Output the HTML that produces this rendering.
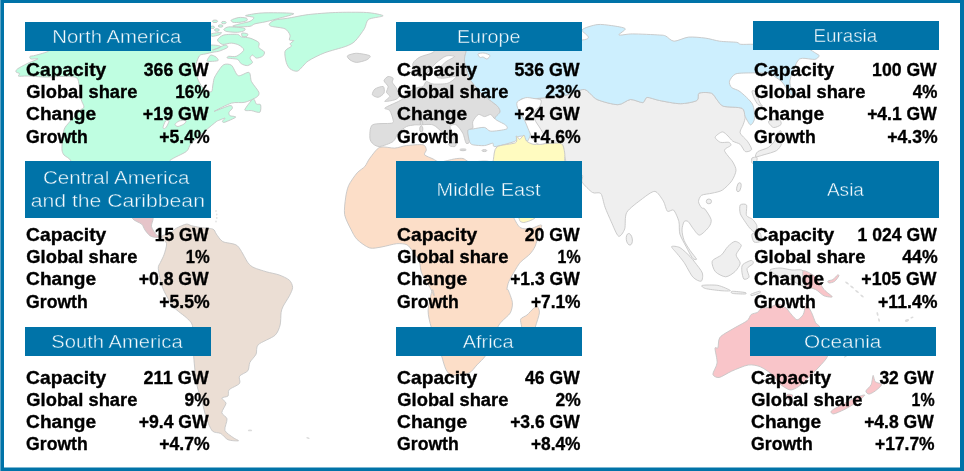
<!DOCTYPE html>
<html><head><meta charset="utf-8"><title>Renewable capacity by region</title>
<style>
html,body{margin:0;padding:0;background:#fff;}
body{width:964px;height:471px;overflow:hidden;font-family:"Liberation Sans",sans-serif;}
svg{display:block}
text{font-family:"Liberation Sans",sans-serif;}
.h{font-size:18.7px;fill:#f4fafd;font-weight:400;stroke:#0073a8;stroke-width:.42px}
.b{font-size:18.5px;fill:#000;font-weight:700;stroke:#000;stroke-width:.35px}
.land{filter:blur(.3px)}
.land path,.land ellipse,.land circle{stroke:#c6c6c6;stroke-width:.9;stroke-linejoin:round}
</style></head><body>
<svg width="964" height="471" viewBox="0 0 964 471">
<rect width="964" height="471" fill="#fff"/>
<g class="land">
<path fill="#bffee1" d="M48.7 51.0C50.5 49.6 27.1 45.8 48.7 45.0C70.3 44.2 189.2 44.3 211.0 45.0C232.8 45.7 210.6 50.0 212.5 50.0C214.4 50.0 223.0 45.3 225.0 45.0C227.0 44.7 228.3 46.7 227.5 47.5C226.7 48.3 220.6 50.7 218.8 51.3C217.0 51.9 215.8 51.6 214.0 52.0C212.2 52.4 207.0 53.5 205.0 54.0C203.0 54.5 200.6 54.1 199.3 56.0C198.0 57.9 195.3 64.9 195.2 68.2C195.1 71.5 197.1 77.5 198.3 80.4C199.5 83.3 202.6 88.1 204.4 89.6C206.2 91.1 210.4 92.4 211.5 91.7C212.6 91.0 212.5 86.0 213.0 84.0C213.5 82.0 213.5 79.1 214.9 76.6C216.3 74.1 221.0 66.5 223.2 65.0C225.4 63.5 229.5 63.9 231.5 65.3C233.5 66.7 235.9 74.8 238.2 75.7C240.5 76.6 247.2 71.6 249.0 72.4C250.8 73.2 250.2 78.9 251.5 81.6C252.8 84.3 258.2 90.2 258.9 92.3C259.6 94.4 258.3 96.0 256.4 97.3C254.5 98.6 248.1 101.5 244.8 102.3C241.5 103.1 235.6 101.9 231.5 103.1C227.4 104.3 214.3 111.1 214.1 111.4C213.9 111.7 227.5 106.0 229.9 105.6C232.3 105.2 232.5 107.2 232.4 108.1C232.3 109.0 229.3 111.3 229.0 112.3C228.7 113.3 229.0 114.9 229.9 115.6C230.8 116.3 236.4 116.3 235.7 117.2C235.0 118.1 226.7 121.6 224.9 122.2C223.1 122.8 222.4 121.9 222.4 121.4C222.4 120.9 225.4 118.2 224.9 118.1C224.4 118.0 219.5 120.1 218.3 120.6C217.1 121.1 217.8 120.4 216.2 121.7C214.6 123.0 209.5 127.1 206.2 130.0C202.9 132.9 194.0 140.3 191.3 143.2C188.6 146.1 189.2 149.2 186.3 151.5C183.4 153.8 173.2 157.6 169.7 160.7C166.2 163.8 173.2 173.1 160.0 175.0C146.8 176.9 82.9 176.9 71.0 175.0C59.1 173.1 71.9 163.7 71.0 161.0C70.1 158.3 65.2 156.5 64.0 155.0C62.8 153.5 62.2 151.8 62.0 150.0C61.8 148.2 62.0 144.4 62.3 141.6C62.6 138.8 63.3 131.6 64.3 129.0C65.3 126.4 67.4 124.5 69.5 122.0C71.6 119.5 78.1 112.4 80.0 110.4C81.9 108.4 83.9 108.5 84.0 107.0C84.1 105.5 81.7 102.1 81.0 99.0C80.3 95.9 79.6 86.4 78.9 83.5C78.2 80.6 78.3 78.2 75.8 77.3C73.3 76.4 64.1 76.5 60.0 76.5C55.9 76.5 49.4 77.1 45.0 77.0C40.6 76.9 30.5 76.1 27.0 76.0C23.5 75.9 19.6 76.5 18.6 76.2C17.6 75.9 19.9 74.2 19.6 73.6C19.3 73.0 16.3 72.6 16.0 72.0C15.7 71.4 16.0 70.0 17.5 68.9C19.0 67.8 24.2 65.0 26.9 63.7C29.6 62.4 37.5 59.4 38.0 58.8C38.5 58.2 32.1 59.3 31.0 59.0C29.9 58.7 29.4 56.9 30.0 56.4C30.6 55.9 32.7 56.1 35.2 55.4C37.7 54.7 46.9 52.4 48.7 51.0Z"/>
<path fill="#bffee1" d="M244.8 109.8C245.0 108.3 251.6 99.8 253.1 99.0C254.6 98.2 255.4 103.2 256.4 104.0C257.4 104.8 260.1 103.7 260.6 104.8C261.1 105.9 261.0 111.5 259.8 112.3C258.6 113.1 253.5 110.9 251.5 110.6C249.5 110.3 244.6 111.3 244.8 109.8Z"/>
<path fill="#bffee1" d="M269.4 23.8C269.9 23.0 272.6 20.7 275.0 20.0C277.4 19.3 283.0 19.0 287.4 18.3C291.8 17.6 301.8 15.4 308.2 14.6C314.6 13.8 327.5 12.8 335.3 12.5C343.1 12.2 360.1 12.1 366.5 12.5C372.9 12.9 382.8 14.9 383.1 15.8C383.4 16.7 371.1 17.7 368.6 19.4C366.1 21.1 366.2 25.8 364.4 28.7C362.6 31.6 357.5 38.8 355.0 41.2C352.5 43.6 349.7 44.9 345.7 46.4C341.7 47.9 329.9 50.8 324.9 52.7C319.9 54.6 311.8 58.6 308.2 61.0C304.6 63.4 300.2 70.0 297.8 71.0C295.4 72.0 291.5 69.9 290.0 68.8C288.5 67.7 287.0 64.8 286.3 62.5C285.6 60.2 284.3 53.5 285.0 51.3C285.7 49.1 290.6 47.3 291.3 46.3C292.0 45.3 289.7 44.6 290.0 43.8C290.3 43.0 293.9 41.1 293.8 40.6C293.7 40.1 289.9 40.7 289.4 40.0C288.9 39.3 290.6 36.5 290.0 35.0C289.4 33.5 287.5 30.0 285.0 28.8C282.5 27.6 273.4 27.0 271.3 26.3C269.2 25.6 268.9 24.6 269.4 23.8Z"/>
<path fill="#bffee1" d="M245.6 15.6C246.4 15.0 255.7 13.5 260.0 13.1C264.3 12.7 273.0 12.7 277.5 12.8C282.0 12.9 294.1 12.9 293.8 13.8C293.5 14.7 278.8 18.3 275.0 19.4C271.2 20.5 267.7 21.3 265.0 21.9C262.3 22.5 257.0 23.2 255.0 23.8C253.0 24.4 252.3 25.9 250.0 26.3C247.7 26.7 239.8 26.9 237.5 26.9C235.2 26.9 232.3 26.5 232.8 26.0C233.3 25.5 239.0 24.1 241.3 23.5C243.6 22.9 248.3 22.1 250.0 21.3C251.7 20.5 254.4 18.3 253.8 17.5C253.2 16.7 244.8 16.2 245.6 15.6Z"/>
<path fill="#bffee1" d="M231.3 20.0C232.1 19.4 236.8 17.8 238.8 17.5C240.8 17.2 245.2 17.7 246.3 18.1C247.4 18.5 247.7 20.0 246.9 20.6C246.1 21.2 241.8 22.1 240.0 22.3C238.2 22.5 234.3 22.6 233.1 22.3C231.9 22.0 230.5 20.6 231.3 20.0Z"/>
<path fill="#bffee1" d="M223.8 29.4C224.1 28.8 226.1 27.1 228.8 26.9C231.5 26.7 241.7 27.6 243.8 28.1C245.9 28.6 245.2 30.0 244.4 30.6C243.6 31.2 239.8 32.2 237.5 32.3C235.2 32.4 228.7 31.9 226.9 31.5C225.1 31.1 223.5 30.0 223.8 29.4Z"/>
<path fill="#bffee1" d="M241.9 33.1C242.6 32.7 246.8 33.4 247.5 33.8C248.2 34.2 247.6 35.9 246.9 36.3C246.2 36.7 243.2 36.9 242.5 36.5C241.8 36.1 241.2 33.5 241.9 33.1Z"/>
<path fill="#bffee1" d="M217.5 40.0C217.7 38.7 221.1 35.7 223.8 35.0C226.5 34.3 235.2 34.1 237.5 34.4C239.8 34.7 239.6 36.4 241.3 36.9C243.0 37.4 247.7 37.4 250.0 38.1C252.3 38.8 257.6 41.2 258.8 42.5C260.0 43.8 258.1 46.2 258.8 47.5C259.5 48.8 263.9 50.7 264.4 51.9C264.9 53.1 263.6 55.5 262.5 56.3C261.4 57.1 257.6 58.3 256.3 58.1C255.0 57.9 253.3 55.0 252.5 55.0C251.7 55.0 250.0 57.1 250.0 58.1C250.0 59.1 252.8 61.5 252.5 62.5C252.2 63.5 249.0 65.4 247.5 65.6C246.0 65.8 242.6 64.6 241.3 63.8C240.0 63.0 239.3 60.2 237.5 59.4C235.7 58.6 228.7 58.5 227.5 58.1C226.3 57.7 227.6 56.5 228.8 56.3C230.0 56.1 234.3 57.1 236.3 56.3C238.3 55.5 243.5 51.5 243.8 50.0C244.1 48.5 240.5 45.9 238.8 45.0C237.1 44.1 233.5 43.2 231.3 43.1C229.1 43.0 224.3 44.8 222.5 44.4C220.7 44.0 217.3 41.3 217.5 40.0Z"/>
<path fill="#bffee1" d="M211.3 33.8C212.6 33.3 220.3 32.3 221.3 32.5C222.3 32.7 220.1 34.5 218.8 35.0C217.5 35.5 212.9 36.5 211.9 36.3C210.9 36.1 210.0 34.3 211.3 33.8Z"/>
<ellipse fill="#bffee1" cx="215" cy="21.3" rx="2.6" ry="1.3"/>
<ellipse fill="#bffee1" cx="223.8" cy="22.6" rx="2.4" ry="1.2"/>
<ellipse fill="#bffee1" cx="220.6" cy="26" rx="2.4" ry="1.2"/>
<ellipse fill="#bffee1" cx="216.9" cy="30" rx="2.4" ry="1.3"/>
<ellipse fill="#bffee1" cx="212.5" cy="27.3" rx="2" ry="1.2"/>
<path fill="#bffee1" d="M208.7 57.5C209.2 56.7 210.0 55.1 211.0 55.0C212.0 54.9 215.1 56.3 216.0 57.0C216.9 57.7 219.1 60.0 218.0 60.6C216.9 61.2 208.7 61.7 207.5 61.3C206.3 60.9 208.2 58.3 208.7 57.5Z"/>
<path fill="#ffffff" d="M163.0 127.5C163.1 126.5 164.7 121.9 165.5 121.0C166.3 120.1 168.7 120.0 169.0 120.5C169.3 121.0 168.0 123.9 167.5 125.0C167.0 126.1 165.6 128.2 165.0 128.5C164.4 128.8 162.9 128.5 163.0 127.5Z"/>
<path fill="#ffffff" d="M175.0 124.5C175.1 123.8 177.5 121.5 179.0 121.0C180.5 120.5 185.3 120.1 186.0 120.5C186.7 120.9 185.1 123.2 184.0 124.0C182.9 124.8 179.2 126.4 178.0 126.5C176.8 126.6 174.9 125.2 175.0 124.5Z"/>
<path fill="#e6c4c9" d="M132.4 218.3C131.2 215.8 129.6 206.8 132.4 205.0C135.2 203.2 150.4 203.2 153.2 205.0C156.0 206.8 153.4 215.4 153.2 218.3C153.0 221.2 151.1 224.4 151.5 226.6C151.9 228.8 155.2 233.6 156.5 234.9C157.8 236.2 161.6 236.2 161.5 236.5C161.4 236.8 157.2 237.5 155.7 237.4C154.2 237.3 151.3 236.7 149.9 235.7C148.5 234.7 146.0 231.4 144.9 229.9C143.8 228.4 143.3 225.6 141.6 224.1C139.9 222.6 133.6 220.8 132.4 218.3Z"/>
<path fill="#ebded4" d="M161.5 236.5C161.9 235.1 167.8 234.3 169.8 233.2C171.8 232.1 174.2 229.4 176.4 228.2C178.6 227.0 184.4 224.4 186.4 224.1C188.4 223.8 189.6 225.3 191.4 225.7C193.2 226.1 196.8 226.9 199.7 227.4C202.6 227.9 210.7 228.2 212.9 229.1C215.1 230.0 215.0 232.3 216.3 234.0C217.6 235.7 220.0 240.0 222.8 241.6C225.6 243.2 234.1 243.0 237.4 245.8C240.7 248.6 245.6 259.6 247.8 262.5C250.0 265.4 251.6 266.5 254.1 267.7C256.6 268.9 263.2 270.8 266.5 271.8C269.8 272.8 275.9 273.8 279.0 274.9C282.1 276.0 287.6 278.5 289.4 280.2C291.2 281.9 292.6 285.3 292.6 287.4C292.6 289.5 290.7 293.3 289.4 295.8C288.1 298.3 284.3 304.0 283.2 306.2C282.1 308.4 281.5 310.0 281.1 312.5C280.7 315.0 280.9 321.9 280.1 325.0C279.3 328.1 277.8 332.8 274.9 335.4C272.0 338.0 260.7 342.2 258.2 344.7C255.7 347.2 257.2 351.7 256.1 354.1C255.0 356.5 251.0 360.2 249.9 362.4C248.8 364.6 249.2 369.0 247.8 370.8C246.4 372.6 240.6 374.5 239.5 376.2C238.4 377.9 240.9 381.7 239.5 383.5C238.1 385.3 230.6 388.1 229.1 389.8C227.6 391.5 229.0 394.9 228.0 396.0C227.0 397.1 222.1 397.1 221.8 398.1C221.5 399.1 226.0 401.4 226.0 403.3C226.0 405.2 221.7 410.6 221.8 412.7C221.9 414.8 226.6 416.5 227.0 418.9C227.4 421.3 224.1 427.9 224.9 430.4C225.7 432.9 231.4 436.2 233.2 437.6C235.0 439.0 239.2 440.5 238.5 440.8C237.8 441.1 230.4 440.7 228.0 439.7C225.6 438.7 222.9 434.7 220.8 433.5C218.7 432.3 214.3 433.1 212.4 431.0C210.5 428.9 207.6 421.9 206.2 417.9C204.8 413.9 203.3 405.6 202.0 401.2C200.7 396.8 197.9 390.6 196.8 384.6C195.7 378.6 194.2 363.9 193.7 356.2C193.2 348.5 193.5 332.0 192.7 327.0C191.9 322.0 190.1 321.5 187.5 318.7C184.9 315.9 176.2 310.4 172.9 306.2C169.6 302.0 164.4 292.4 162.5 287.4C160.6 282.4 158.6 272.0 158.3 268.7C158.0 265.4 159.6 264.4 160.4 262.5C161.2 260.6 163.2 257.3 164.0 254.8C164.8 252.3 166.9 246.1 166.6 243.7C166.3 241.3 161.1 237.9 161.5 236.5Z"/>
<path fill="#efefef" d="M522.0 98.9C523.9 98.2 528.2 99.2 532.4 98.9C536.6 98.6 548.5 97.4 553.2 96.8C557.9 96.2 563.6 95.7 567.8 94.7C572.0 93.7 580.6 88.9 584.5 89.5C588.4 90.1 592.6 97.5 597.1 99.5C601.6 101.5 613.5 104.7 617.9 104.7C622.3 104.7 627.1 99.8 630.4 99.5C633.7 99.2 640.6 102.9 642.8 102.6C645.0 102.3 644.8 97.7 647.0 97.4C649.2 97.1 655.1 99.7 659.5 100.5C663.9 101.3 675.3 103.7 680.3 103.7C685.3 103.7 694.4 101.9 696.9 100.5C699.4 99.1 697.1 94.2 699.0 93.2C700.9 92.2 709.1 92.3 711.5 93.2C713.9 94.1 715.5 98.2 717.1 99.9C718.7 101.6 720.0 105.1 723.3 106.2C726.6 107.3 739.1 106.9 742.0 108.3C744.9 109.7 745.0 114.4 745.2 116.6C745.4 118.8 743.9 122.4 743.2 124.6C742.5 126.8 739.5 130.7 740.1 132.9C740.7 135.1 745.9 139.0 747.4 141.2C748.9 143.4 751.9 148.1 751.6 149.5C751.3 150.9 746.8 152.3 745.3 151.6C743.8 150.9 741.8 145.7 740.1 144.3C738.4 142.9 734.4 142.3 732.8 141.2C731.2 140.1 729.4 137.2 728.0 136.0C726.6 134.8 724.1 131.8 722.4 131.9C720.7 132.0 715.5 135.7 715.2 137.1C714.9 138.5 718.6 141.6 720.4 142.3C722.2 143.0 727.3 141.9 728.7 142.3C730.1 142.7 731.4 144.3 730.8 145.4C730.2 146.5 724.2 148.4 724.5 150.6C724.8 152.8 731.3 159.4 732.8 162.0C734.3 164.6 736.1 167.9 736.0 170.4C735.9 172.9 733.6 178.2 731.8 180.8C730.0 183.4 725.0 188.4 722.4 190.1C719.8 191.8 714.8 192.5 712.0 193.2C709.2 193.9 703.4 194.2 701.6 195.3C699.8 196.4 698.5 199.9 698.5 201.6C698.5 203.3 700.7 206.8 701.6 207.8C702.5 208.8 703.6 207.5 704.9 209.1C706.2 210.7 710.6 217.1 711.1 219.5C711.6 221.9 710.5 224.7 709.0 226.8C707.5 228.9 701.8 234.8 699.7 235.1C697.6 235.4 694.9 230.7 693.4 228.9C691.9 227.1 689.4 222.6 688.2 221.6C687.0 220.6 684.9 220.5 684.1 221.6C683.3 222.7 682.0 227.4 682.0 229.9C682.0 232.4 683.0 237.6 684.1 240.4C685.2 243.2 688.6 248.3 690.3 250.8C692.0 253.3 696.2 258.1 696.5 259.1C696.8 260.1 693.8 259.7 692.4 258.0C691.0 256.3 687.8 249.8 686.1 246.6C684.4 243.4 680.9 237.4 679.9 234.1C678.9 230.8 679.7 224.8 678.9 221.6C678.1 218.4 675.2 211.6 673.7 210.2C672.2 208.8 668.8 212.5 667.4 211.2C666.0 209.9 664.9 203.4 663.2 200.8C661.5 198.2 657.7 191.7 654.9 191.4C652.1 191.1 646.1 195.9 642.4 198.7C638.7 201.5 629.2 208.3 626.8 212.3C624.4 216.3 625.8 225.7 624.7 228.9C623.6 232.1 620.3 237.2 618.5 236.2C616.7 235.2 613.0 225.5 611.2 221.6C609.4 217.7 606.4 210.8 605.0 207.1C603.6 203.4 602.5 195.4 600.8 193.5C599.1 191.6 595.0 194.0 592.5 192.5C590.0 191.0 583.5 184.4 582.1 182.1C580.7 179.8 584.2 175.9 582.0 175.0C579.8 174.1 567.9 176.9 565.7 175.0C563.5 173.1 566.0 163.7 565.7 160.8C565.4 157.9 564.1 155.1 563.6 152.9C563.1 150.7 564.4 145.9 561.6 144.6C558.8 143.3 545.9 143.8 542.8 143.5C539.7 143.2 540.4 144.0 538.7 142.6C537.0 141.2 532.1 135.8 530.4 133.2C528.7 130.6 527.6 125.6 526.2 122.8C524.8 120.0 521.0 114.9 519.9 112.4C518.8 109.9 517.6 105.9 517.9 104.1C518.2 102.3 520.1 99.6 522.0 98.9Z"/>
<ellipse fill="#efefef" cx="629.3" cy="239.3" rx="3" ry="5.8" transform="rotate(-8 629.3 239.3)"/>
<ellipse fill="#efefef" cx="708.9" cy="201.4" rx="2.6" ry="2.4"/>
<ellipse fill="#efefef" cx="738.9" cy="187.2" rx="2" ry="4.6" transform="rotate(12 738.9 187.2)"/>
<path fill="#efefef" d="M781.7 143.3C781.1 145.9 778.8 149.1 776.5 150.6C774.2 152.1 766.9 153.9 764.1 154.7C761.3 155.5 756.5 157.2 755.7 156.8C754.9 156.4 756.1 152.8 757.8 151.6C759.5 150.4 766.0 148.9 768.2 147.5C770.4 146.1 773.3 143.0 774.5 141.2C775.7 139.4 776.1 135.4 777.0 134.0C777.9 132.6 780.4 129.8 781.0 131.0C781.6 132.2 782.3 140.7 781.7 143.3Z"/>
<path fill="#efefef" d="M768.5 121.5C769.2 120.4 777.3 119.1 779.0 119.5C780.7 119.9 781.7 123.4 781.0 124.5C780.3 125.6 775.2 127.9 773.5 127.5C771.8 127.1 767.8 122.6 768.5 121.5Z"/>
<path fill="#efefef" d="M752.0 158.0C752.7 157.3 756.5 156.8 757.0 157.5C757.5 158.2 756.7 162.3 756.0 163.0C755.3 163.7 752.5 163.7 752.0 163.0C751.5 162.3 751.3 158.7 752.0 158.0Z"/>
<path fill="#efefef" d="M752.0 91.0C752.2 90.2 754.4 90.4 755.5 92.0C756.6 93.6 759.1 101.1 760.0 103.0C760.9 104.9 762.8 105.8 762.5 106.0C762.2 106.2 759.1 105.6 758.0 104.5C756.9 103.4 754.8 99.8 754.0 98.0C753.2 96.2 751.8 91.8 752.0 91.0Z"/>
<path fill="#efefef" d="M671.6 246.6C672.0 245.8 677.4 246.3 679.9 247.6C682.4 248.9 688.0 254.5 690.0 256.5C692.0 258.5 693.4 260.3 695.0 262.5C696.6 264.7 701.5 270.4 702.3 272.9C703.1 275.4 702.5 280.6 701.2 281.2C699.9 281.8 695.2 279.6 692.9 277.1C690.6 274.6 686.2 265.6 684.1 262.5C682.0 259.4 678.7 255.6 677.0 253.5C675.3 251.4 671.2 247.4 671.6 246.6Z"/>
<path fill="#efefef" d="M702.3 285.4C704.0 285.0 714.2 284.7 717.9 285.4C721.6 286.1 730.1 289.9 730.4 290.6C730.7 291.3 723.3 290.9 720.0 290.6C716.7 290.3 707.8 289.2 705.4 288.5C703.0 287.8 700.6 285.8 702.3 285.4Z"/>
<path fill="#efefef" d="M732.4 291.3C734.1 291.2 743.3 292.1 745.0 292.5C746.7 292.9 746.7 293.9 745.0 294.0C743.3 294.1 734.1 293.8 732.4 293.4C730.7 293.0 730.7 291.4 732.4 291.3Z"/>
<path fill="#efefef" d="M751.0 294.2C752.0 293.6 758.3 291.4 759.5 291.2C760.7 291.0 761.0 292.2 760.0 292.8C759.0 293.4 753.2 295.4 752.0 295.6C750.8 295.8 750.0 294.8 751.0 294.2Z"/>
<path fill="#efefef" d="M735.0 241.4C736.8 241.3 741.2 243.8 741.3 245.6C741.4 247.4 736.2 252.6 736.1 254.9C736.0 257.2 740.3 261.0 740.2 263.2C740.1 265.4 736.9 269.8 735.0 271.6C733.1 273.4 728.3 276.8 725.7 276.8C723.1 276.8 717.1 273.7 715.3 271.6C713.5 269.5 711.4 263.4 712.2 261.2C713.0 259.0 719.4 256.8 721.5 254.9C723.6 253.0 726.0 248.4 727.8 246.6C729.6 244.8 733.2 241.5 735.0 241.4Z"/>
<path fill="#efefef" d="M742.8 264.6C744.1 263.2 749.8 260.5 751.2 260.4C752.6 260.3 753.8 262.4 753.2 263.5C752.6 264.6 747.5 266.9 747.0 268.7C746.5 270.5 749.5 275.7 749.1 277.1C748.7 278.5 744.9 279.9 743.9 279.1C742.9 278.3 741.9 272.7 741.8 270.8C741.7 268.9 741.5 266.0 742.8 264.6Z"/>
<path fill="#efefef" d="M740.2 205.0C741.0 203.9 745.7 203.6 746.5 205.0C747.3 206.4 745.7 213.5 746.5 215.4C747.3 217.3 751.3 218.1 752.7 219.5C754.1 220.9 756.6 224.1 756.9 225.8C757.2 227.5 755.8 231.7 754.8 232.0C753.8 232.3 751.0 229.4 749.6 227.9C748.2 226.4 745.7 222.5 744.4 220.6C743.1 218.7 740.8 215.4 740.2 213.3C739.6 211.2 739.4 206.1 740.2 205.0Z"/>
<path fill="#efefef" d="M752.0 234.0C752.8 232.8 758.8 232.1 760.0 233.0C761.2 233.9 761.8 239.8 761.0 241.0C760.2 242.2 755.2 242.9 754.0 242.0C752.8 241.1 751.2 235.2 752.0 234.0Z"/>
<path fill="#efefef" d="M770.0 270.0C770.3 268.9 777.1 268.0 780.0 268.0C782.9 268.0 788.9 269.6 792.0 270.0C795.1 270.4 801.4 268.7 803.2 270.8C805.0 272.9 806.0 283.6 805.3 285.4C804.6 287.2 800.0 284.9 798.0 284.0C796.0 283.1 792.7 280.1 790.0 279.0C787.3 277.9 780.7 277.2 778.0 276.0C775.3 274.8 769.7 271.1 770.0 270.0Z"/>
<path fill="#dedede" d="M413.0 63.3C413.8 61.3 417.3 58.4 420.0 57.0C422.7 55.6 430.3 54.1 433.0 52.5C435.7 50.9 435.1 46.0 440.0 45.0C444.9 44.0 466.5 44.1 470.0 45.0C473.5 45.9 466.8 49.4 466.1 51.6C465.4 53.8 464.0 58.1 464.5 61.6C465.0 65.1 468.4 75.3 469.5 78.2C470.6 81.1 471.3 81.2 472.8 83.2C474.3 85.2 478.8 90.9 481.0 93.1C483.2 95.3 487.2 98.0 489.4 99.8C491.6 101.6 496.3 104.8 497.7 106.4C499.1 108.0 500.4 110.4 500.0 112.0C499.6 113.6 496.2 118.4 495.0 118.7C493.8 119.0 492.2 114.8 490.8 114.5C489.4 114.2 486.3 116.6 484.6 116.6C482.9 116.6 479.9 113.8 478.3 114.5C476.7 115.2 473.5 119.8 472.8 121.6C472.1 123.4 473.5 127.0 472.8 128.2C472.1 129.4 468.2 128.9 467.8 130.7C467.4 132.5 469.7 139.8 469.5 141.5C469.3 143.2 467.0 144.3 466.1 143.2C465.2 142.1 464.1 135.6 462.8 133.2C461.5 130.8 457.9 125.7 456.2 124.9C454.5 124.1 450.0 124.8 450.0 127.0C450.0 129.2 455.9 139.4 456.2 141.5C456.5 143.6 453.8 144.1 452.0 143.0C450.2 141.9 445.5 135.6 443.0 133.2C440.5 130.8 436.1 126.0 433.0 124.9C429.9 123.8 422.1 124.9 419.7 124.9C417.3 124.9 416.5 124.7 414.7 124.9C412.9 125.1 408.6 125.5 406.4 126.6C404.2 127.7 399.9 131.2 398.1 133.2C396.3 135.2 395.5 139.7 393.1 141.5C390.7 143.3 382.5 146.2 379.8 146.5C377.1 146.8 374.5 145.1 373.2 144.0C371.9 142.9 370.0 140.7 369.9 138.2C369.8 135.7 369.5 126.9 372.4 124.9C375.3 122.9 388.7 123.9 391.5 123.2C394.3 122.5 393.3 121.6 393.1 119.9C392.9 118.2 390.9 112.2 389.8 110.6C388.7 109.0 384.1 109.1 384.8 108.1C385.5 107.1 392.6 104.2 394.8 103.1C397.0 102.0 399.6 101.1 401.4 99.8C403.2 98.5 406.1 94.6 408.0 93.0C409.9 91.4 414.0 88.9 416.0 88.0C418.0 87.1 421.6 87.4 423.0 86.5C424.4 85.6 425.0 81.8 426.3 81.5C427.6 81.2 430.1 83.8 433.0 84.0C435.9 84.2 444.8 84.2 447.9 83.2C451.0 82.2 456.9 77.2 456.2 76.5C455.5 75.8 445.6 78.2 442.9 78.2C440.2 78.2 436.7 77.8 436.3 76.5C435.9 75.2 438.3 70.2 439.6 68.2C440.9 66.2 444.2 63.1 446.2 61.6C448.2 60.1 454.5 57.3 454.5 56.6C454.5 55.9 448.5 55.1 446.0 56.0C443.5 56.9 438.4 60.9 436.0 63.0C433.6 65.1 430.0 70.1 428.0 72.0C426.0 73.9 422.9 77.0 421.0 77.0C419.1 77.0 415.1 73.8 414.0 72.0C412.9 70.2 412.2 65.3 413.0 63.3Z"/>
<path fill="#dedede" d="M347.5 55.8C348.4 54.9 353.6 53.3 356.6 53.3C359.6 53.3 368.6 54.9 369.9 55.8C371.2 56.7 368.4 59.0 366.6 59.9C364.8 60.8 358.8 62.4 356.6 62.4C354.4 62.4 351.2 60.8 350.0 59.9C348.8 59.0 346.6 56.7 347.5 55.8Z"/>
<path fill="#dedede" d="M372.4 94.8C372.0 93.7 373.5 90.1 374.9 89.0C376.3 87.9 382.0 86.0 383.2 86.5C384.4 87.0 384.7 91.7 384.0 93.1C383.3 94.5 379.7 97.1 378.2 97.3C376.7 97.5 372.8 95.9 372.4 94.8Z"/>
<path fill="#dedede" d="M384.0 80.7C384.0 79.4 386.9 76.8 388.1 76.5C389.3 76.2 392.5 77.4 393.1 78.2C393.7 79.0 391.9 81.0 392.3 82.3C392.7 83.6 395.5 86.3 396.4 88.2C397.3 90.1 399.1 95.0 398.9 96.5C398.7 98.0 396.7 99.1 394.8 99.8C392.9 100.5 385.5 101.8 384.8 101.4C384.1 101.0 389.6 97.7 389.8 96.5C390.0 95.3 386.7 93.6 386.5 92.3C386.3 91.0 388.4 88.0 388.1 86.5C387.8 85.0 384.0 82.0 384.0 80.7Z"/>
<ellipse fill="#dedede" cx="421.3" cy="129" rx="1.6" ry="3"/>
<ellipse fill="#dedede" cx="421.5" cy="123" rx="1.3" ry="2.2"/>
<path fill="#dedede" d="M449.0 143.5C449.8 143.1 455.2 142.6 456.0 143.0C456.8 143.4 455.8 146.1 455.0 146.5C454.2 146.9 450.8 146.4 450.0 146.0C449.2 145.6 448.2 143.9 449.0 143.5Z"/>
<ellipse fill="#dedede" cx="463" cy="149.8" rx="3.2" ry="0.9"/>
<ellipse fill="#dedede" cx="484.4" cy="150.6" rx="2.4" ry="1"/>
<path fill="#cdeffe" d="M466.1 51.6C466.8 48.7 454.5 41.5 470.0 40.0C485.5 38.5 567.2 41.4 582.1 40.0C597.0 38.6 580.1 31.9 582.1 29.8C584.1 27.7 593.2 25.2 597.1 24.6C601.0 24.0 607.9 25.1 611.6 25.6C615.3 26.1 624.2 27.4 625.2 28.7C626.2 30.0 617.9 34.3 618.9 35.0C619.9 35.7 627.0 33.9 632.4 33.9C637.8 33.9 655.1 34.7 659.5 35.0C663.9 35.3 663.8 35.2 665.7 36.0C667.6 36.8 671.0 41.1 674.1 41.2C677.2 41.3 684.4 37.5 688.6 37.1C692.8 36.7 701.1 37.6 705.3 38.1C709.5 38.6 715.6 40.6 719.8 41.2C724.0 41.8 733.7 41.9 736.5 42.3C739.3 42.7 738.5 44.0 740.7 44.3C742.9 44.6 750.5 44.1 753.1 44.3C755.7 44.5 753.7 45.8 760.0 46.0C766.3 46.2 792.4 44.9 800.0 46.0C807.6 47.1 814.5 52.6 817.0 54.0C819.5 55.4 819.3 55.5 819.0 56.2C818.7 56.9 817.0 59.1 814.8 59.4C812.6 59.7 804.8 58.0 802.4 58.3C800.0 58.6 798.7 58.9 797.0 62.0C795.3 65.1 790.3 76.4 789.9 81.2C789.5 86.0 794.1 96.5 794.0 97.9C793.9 99.3 790.6 94.1 789.0 92.0C787.4 89.9 783.8 84.0 782.0 82.0C780.2 80.0 776.9 78.1 775.3 77.0C773.7 75.9 773.1 74.0 770.0 73.5C766.9 73.0 757.0 72.8 752.4 72.9C747.8 73.0 738.9 72.8 735.8 73.9C732.7 75.0 730.1 79.4 729.5 81.2C728.9 83.0 730.2 86.1 731.6 87.5C733.0 88.9 737.2 89.4 740.0 91.6C742.8 93.8 750.5 100.5 752.4 104.1C754.3 107.7 754.8 115.9 754.5 118.7C754.2 121.5 751.6 125.2 750.4 124.9C749.2 124.6 746.3 118.8 745.2 116.6C744.1 114.4 744.9 109.7 742.0 108.3C739.1 106.9 726.6 107.3 723.3 106.2C720.0 105.1 718.7 101.6 717.1 99.9C715.5 98.2 713.9 94.1 711.5 93.2C709.1 92.3 700.9 92.2 699.0 93.2C697.1 94.2 699.4 99.1 696.9 100.5C694.4 101.9 685.3 103.7 680.3 103.7C675.3 103.7 663.9 101.3 659.5 100.5C655.1 99.7 649.2 97.1 647.0 97.4C644.8 97.7 645.0 102.3 642.8 102.6C640.6 102.9 633.7 99.2 630.4 99.5C627.1 99.8 622.3 104.7 617.9 104.7C613.5 104.7 601.6 101.5 597.1 99.5C592.6 97.5 588.4 90.1 584.5 89.5C580.6 88.9 572.0 93.7 567.8 94.7C563.6 95.7 557.9 96.2 553.2 96.8C548.5 97.4 536.6 98.6 532.4 98.9C528.2 99.2 523.9 98.2 522.0 98.9C520.1 99.6 518.2 102.3 517.9 104.1C517.6 105.9 518.8 109.9 519.9 112.4C521.0 114.9 524.8 120.0 526.2 122.8C527.6 125.6 530.3 130.7 530.4 133.2C530.5 135.7 528.2 141.0 527.2 141.4C526.2 141.8 524.5 136.7 523.1 136.2C521.7 135.7 517.9 136.6 516.8 137.3C515.7 138.0 517.6 140.2 514.7 141.4C511.8 142.6 497.9 146.4 495.0 146.6C492.1 146.8 494.1 143.3 492.7 143.2C491.3 143.1 487.1 145.4 484.4 145.6C481.7 145.8 474.8 145.3 472.8 144.8C470.8 144.3 470.2 143.4 469.5 141.5C468.8 139.6 467.4 132.4 467.8 130.7C468.2 129.0 470.6 129.4 472.8 129.0C475.0 128.6 482.0 127.1 484.4 127.4C486.8 127.7 487.9 131.0 490.8 131.2C493.7 131.4 504.5 129.9 506.4 129.1C508.3 128.3 506.9 126.3 505.4 124.9C503.9 123.5 495.7 120.4 495.0 118.7C494.3 117.0 499.6 113.6 500.0 112.0C500.4 110.4 499.1 108.0 497.7 106.4C496.3 104.8 491.6 101.6 489.4 99.8C487.2 98.0 483.2 95.3 481.0 93.1C478.8 90.9 474.3 85.2 472.8 83.2C471.3 81.2 470.6 81.1 469.5 78.2C468.4 75.3 465.0 65.1 464.5 61.6C464.0 58.1 465.4 54.5 466.1 51.6Z"/>
<path fill="#fffbc0" d="M493.4 159.7C494.0 156.6 493.9 149.3 496.8 147.0C499.7 144.7 512.9 144.2 515.5 142.7C518.1 141.2 515.7 136.5 516.3 136.0C516.9 135.5 518.7 139.4 519.7 139.3C520.7 139.2 523.1 134.9 524.0 135.1C524.9 135.3 525.2 139.8 526.5 141.0C527.8 142.2 531.4 144.1 534.0 144.4C536.6 144.7 542.4 143.7 546.0 143.6C549.6 143.5 558.8 142.4 561.3 143.6C563.8 144.8 564.2 150.6 564.7 152.9C565.2 155.2 564.5 157.6 564.7 160.5C564.9 163.4 566.6 171.1 566.0 175.0C565.4 178.9 562.4 186.7 560.0 190.0C557.6 193.3 550.7 197.1 548.0 200.0C545.3 202.9 541.7 209.6 540.0 212.0C538.3 214.4 536.4 216.7 535.1 217.9C533.8 219.1 531.6 220.1 530.1 220.7C528.6 221.3 525.1 222.4 523.8 222.5C522.5 222.6 520.8 221.9 520.1 221.3C519.4 220.7 520.1 220.7 518.8 217.9C517.5 215.1 512.5 205.1 510.0 200.0C507.5 194.9 502.4 184.0 500.0 180.0C497.6 176.0 492.9 172.7 492.0 170.0C491.1 167.3 492.8 162.8 493.4 159.7Z"/>
<path fill="#ffffff" d="M525.7 97.7C523.5 98.2 518.2 100.5 517.2 102.0C516.2 103.5 517.1 106.5 518.0 108.8C518.9 111.1 522.5 116.1 524.0 119.0C525.5 121.9 527.7 127.9 529.0 130.8C530.3 133.7 532.7 139.2 534.1 141.0C535.5 142.8 537.6 144.2 539.2 144.4C540.8 144.6 545.3 143.8 546.0 142.7C546.7 141.6 545.3 138.0 544.5 136.0C543.7 134.0 541.3 130.1 540.0 128.0C538.7 125.9 535.8 122.1 535.0 120.0C534.2 117.9 533.3 113.9 534.0 112.0C534.7 110.1 539.1 107.6 540.0 106.0C540.9 104.4 541.8 101.0 541.0 100.0C540.2 99.0 536.0 98.8 534.0 98.5C532.0 98.2 527.9 97.2 525.7 97.7Z"/>
<path fill="#fcdec8" d="M379.8 147.3C383.1 146.0 391.3 148.3 394.8 148.1C398.3 147.9 402.6 146.0 406.4 145.6C410.2 145.2 420.3 144.2 423.0 144.8C425.7 145.4 426.1 148.5 426.3 149.8C426.5 151.1 423.7 153.6 424.6 154.8C425.5 156.0 430.9 157.9 433.0 158.9C435.1 159.9 437.1 162.0 440.0 162.0C442.9 162.0 451.4 159.4 454.5 158.9C457.6 158.4 460.9 158.1 463.0 158.5C465.1 158.9 466.4 161.5 470.0 162.0C473.6 162.5 486.3 159.6 490.0 162.0C493.7 164.4 496.0 174.9 498.0 180.0C500.0 185.1 502.9 194.9 505.0 200.0C507.1 205.1 511.8 214.2 513.8 217.9C515.8 221.6 517.9 226.0 520.1 227.5C522.3 229.0 527.3 229.1 530.1 228.8C532.9 228.5 540.2 224.3 541.4 225.0C542.6 225.7 539.7 231.0 538.9 233.8C538.1 236.6 536.3 243.6 535.1 246.3C533.9 249.0 531.9 251.9 530.1 253.9C528.3 255.9 523.0 259.7 521.3 261.4C519.6 263.1 518.9 264.0 517.3 266.6C515.7 269.2 510.4 278.1 509.0 281.2C507.6 284.3 507.0 288.3 506.9 289.5C506.8 290.7 507.5 288.3 508.2 290.0C508.9 291.7 512.1 299.4 512.4 302.5C512.7 305.6 511.7 310.4 510.3 312.9C508.9 315.4 503.7 319.3 502.0 321.2C500.3 323.1 499.4 323.8 497.8 327.0C496.2 330.2 491.7 341.1 490.0 345.0C488.3 348.9 487.0 353.3 485.3 356.0C483.6 358.7 479.2 362.6 477.0 364.9C474.8 367.2 472.0 371.8 468.7 373.2C465.4 374.6 455.1 375.8 452.0 375.3C448.9 374.8 447.2 371.7 445.8 369.1C444.4 366.5 442.9 359.9 441.6 356.0C440.3 352.1 437.4 343.9 436.0 340.0C434.6 336.1 432.3 330.9 431.2 327.0C430.1 323.1 428.0 315.7 428.1 310.8C428.2 305.9 431.5 292.0 432.3 290.0C433.1 288.0 434.4 296.1 434.1 295.8C433.8 295.5 431.6 290.5 429.9 287.4C428.2 284.3 423.0 276.2 421.6 272.9C420.2 269.6 420.6 265.3 419.5 262.5C418.4 259.7 414.9 254.5 413.2 252.1C411.5 249.7 409.2 245.9 407.0 244.8C404.8 243.7 399.9 243.4 396.6 243.7C393.3 244.0 385.6 246.3 382.0 246.9C378.4 247.5 372.8 248.9 369.5 247.9C366.2 246.9 359.6 242.0 357.1 239.5C354.6 237.0 352.5 232.4 350.8 229.1C349.1 225.8 345.3 218.7 344.6 214.5C343.9 210.3 345.1 201.8 345.6 197.9C346.1 194.0 347.2 188.7 348.7 185.4C350.2 182.1 354.9 175.4 357.1 172.9C359.3 170.4 363.2 168.4 364.9 166.4C366.6 164.4 367.9 160.6 369.9 158.1C371.9 155.6 376.5 148.6 379.8 147.3Z"/>
<path fill="#fcdec8" d="M537.4 306.6C538.2 307.2 539.7 310.2 539.4 312.9C539.1 315.6 536.4 323.4 535.3 327.0C534.2 330.6 532.5 337.9 531.0 340.0C529.5 342.1 525.2 344.7 524.0 343.0C522.8 341.3 522.1 330.2 521.7 327.0C521.3 323.8 520.0 320.7 520.7 319.1C521.4 317.5 525.3 316.4 527.0 315.0C528.7 313.6 531.8 309.8 533.2 308.7C534.6 307.6 536.6 306.0 537.4 306.6Z"/>
<path fill="#f9c5c9" d="M717.9 347.8C718.6 346.3 718.0 339.9 719.9 337.4C721.8 334.9 728.8 331.3 732.4 329.1C736.0 326.9 744.5 322.7 747.0 320.8C749.5 318.9 749.8 315.6 751.2 314.5C752.6 313.4 756.0 313.2 757.4 312.4C758.8 311.6 759.9 309.0 761.6 308.3C763.3 307.6 767.7 307.8 769.9 307.2C772.1 306.6 776.0 304.0 778.2 304.1C780.4 304.2 785.0 307.2 786.5 308.3C788.0 309.4 788.3 310.9 789.7 312.4C791.1 313.9 795.2 319.4 797.0 319.7C798.8 320.0 802.1 316.3 803.2 314.5C804.3 312.7 804.9 307.7 805.3 306.2C805.7 304.7 805.5 302.3 806.3 303.1C807.1 303.9 810.2 309.8 811.5 312.4C812.8 315.0 814.6 320.9 815.7 322.8C816.8 324.7 818.2 324.0 819.8 327.0C821.4 330.0 827.0 341.1 828.0 345.0C829.0 348.9 828.6 353.7 827.4 356.6C826.2 359.5 821.8 363.9 819.0 367.0C816.2 370.1 809.3 376.9 806.5 379.5C803.7 382.1 800.4 385.4 798.2 386.8C796.0 388.2 792.4 390.3 789.9 389.9C787.4 389.5 781.7 385.6 779.5 383.7C777.3 381.8 775.7 377.6 773.2 375.4C770.7 373.2 764.1 368.4 760.8 367.0C757.5 365.6 752.2 364.4 748.3 365.0C744.4 365.6 735.5 369.5 731.6 371.2C727.7 372.9 721.6 377.1 719.1 377.5C716.6 377.9 713.2 376.2 712.9 374.3C712.6 372.4 716.8 366.4 717.1 362.9C717.4 359.4 714.9 350.3 715.0 348.3C715.1 346.3 717.2 349.3 717.9 347.8Z"/>
<path fill="#f9c5c9" d="M787.0 394.5C787.7 394.0 792.0 394.3 792.5 395.0C793.0 395.7 791.7 399.5 791.0 400.0C790.3 400.5 788.0 399.7 787.5 399.0C787.0 398.3 786.3 395.0 787.0 394.5Z"/>
<path fill="#f9c5c9" d="M803.2 270.8C804.6 269.7 812.9 274.6 815.7 277.1C818.5 279.6 821.8 286.9 824.0 289.5C826.2 292.1 832.3 296.0 832.3 296.8C832.3 297.6 826.2 296.8 824.0 295.8C821.8 294.8 818.2 290.9 815.7 289.5C813.2 288.1 807.0 287.9 805.3 285.4C803.6 282.9 801.8 271.9 803.2 270.8Z"/>
<path fill="#f9c5c9" d="M828.0 281.0C828.5 280.5 831.7 280.3 833.0 279.5C834.3 278.7 836.7 275.5 837.5 275.0C838.3 274.5 839.2 275.1 838.8 276.0C838.4 276.9 835.8 280.6 834.5 281.5C833.2 282.4 829.9 283.1 829.0 283.0C828.1 282.9 827.5 281.5 828.0 281.0Z"/>
<path fill="#f9c5c9" d="M873.1 375.4C873.6 375.0 874.1 380.4 875.2 381.6C876.3 382.8 881.5 383.4 881.5 384.7C881.5 386.0 876.9 389.7 875.2 391.0C873.5 392.3 870.2 394.1 869.0 394.1C867.8 394.1 865.6 392.3 865.9 391.0C866.2 389.7 870.1 386.8 871.1 384.7C872.1 382.6 872.6 375.8 873.1 375.4Z"/>
<path fill="#f9c5c9" d="M864.8 395.1C864.8 395.8 859.3 400.5 856.5 402.4C853.7 404.3 847.1 408.2 844.0 409.7C840.9 411.2 835.3 413.8 833.6 413.9C831.9 414.0 830.1 412.2 831.5 410.8C832.9 409.4 840.7 405.3 844.0 403.5C847.3 401.7 853.7 398.3 856.5 397.2C859.3 396.1 864.8 394.4 864.8 395.1Z"/>
<ellipse fill="#dcdcdc" cx="847" cy="283" rx="2.2" ry="0.9" transform="rotate(35 847 283)" style="stroke:none"/>
<ellipse fill="#dcdcdc" cx="852" cy="287" rx="2.2" ry="0.9" transform="rotate(35 852 287)" style="stroke:none"/>
<ellipse fill="#dcdcdc" cx="857" cy="291.5" rx="2.2" ry="0.9" transform="rotate(35 857 291.5)" style="stroke:none"/>
<ellipse fill="#dcdcdc" cx="862" cy="296" rx="2" ry="0.9" transform="rotate(35 862 296)" style="stroke:none"/>
<ellipse fill="#dcdcdc" cx="877.5" cy="314" rx="0.9" ry="2" transform="rotate(-15 877.5 314)" style="stroke:none"/>
<ellipse fill="#dcdcdc" cx="879" cy="320" rx="0.9" ry="1.8" transform="rotate(-15 879 320)" style="stroke:none"/>
<ellipse fill="#dcdcdc" cx="907" cy="320.5" rx="2.2" ry="1.2" transform="rotate(-20 907 320.5)" style="stroke:none"/>
<ellipse fill="#dcdcdc" cx="912" cy="317.5" rx="1.6" ry="0.9" transform="rotate(-20 912 317.5)" style="stroke:none"/>
<ellipse fill="#dcdcdc" cx="846" cy="356" rx="2.5" ry="0.8" transform="rotate(-40 846 356)" style="stroke:none"/>
<path fill="#ffffff" d="M478.0 54.0C478.5 53.4 482.4 52.8 484.0 53.0C485.6 53.2 489.6 54.7 490.0 55.5C490.4 56.3 487.9 58.8 487.0 59.0C486.1 59.2 483.9 57.2 483.0 57.0C482.1 56.8 480.7 57.9 480.0 57.5C479.3 57.1 477.5 54.6 478.0 54.0Z"/>
<ellipse fill="#dcdcdc" cx="250" cy="430.4" rx="2.2" ry="0.9" style="stroke:none"/>
<ellipse fill="#dcdcdc" cx="308" cy="438" rx="1.8" ry="0.7" transform="rotate(20 308 438)" style="stroke:none"/>
<ellipse fill="#dcdcdc" cx="216" cy="211" rx="0.7" ry="0.9" style="stroke:none"/>
<ellipse fill="#dcdcdc" cx="216.8" cy="214.5" rx="0.7" ry="0.9" style="stroke:none"/>
<ellipse fill="#dcdcdc" cx="216.8" cy="218" rx="0.7" ry="0.9" style="stroke:none"/>
<ellipse fill="#dcdcdc" cx="216" cy="221.5" rx="0.7" ry="0.9" style="stroke:none"/>
</g>
<!-- frame -->
<path d="M0 0H964V471H0Z M4 3V467.5H960V3Z" fill="#0073a8" fill-rule="evenodd"/>
<rect x="0" y="0" width="1" height="471" fill="#5ba3c6"/>
<rect x="25" y="22" width="186" height="29" fill="#0073a8"/>
<rect x="396" y="22" width="186" height="29" fill="#0073a8"/>
<rect x="753" y="21" width="186" height="29" fill="#0073a8"/>
<rect x="25" y="161" width="186" height="57" fill="#0073a8"/>
<rect x="396" y="161" width="186" height="57" fill="#0073a8"/>
<rect x="753" y="161" width="186" height="57" fill="#0073a8"/>
<rect x="25" y="327" width="186" height="29" fill="#0073a8"/>
<rect x="396" y="327" width="186" height="29" fill="#0073a8"/>
<rect x="750" y="327" width="186" height="29" fill="#0073a8"/>
<text class="h" transform="translate(52.20 42.90) scale(1.0895 1)">North America</text>
<text class="b" transform="translate(26.08 76.00) scale(1.0406 1)">Capacity</text>
<text class="b" transform="translate(143.76 76.00) scale(0.9557 1)">366 GW</text>
<text class="b" transform="translate(26.36 98.00) scale(0.9911 1)">Global share</text>
<text class="b" transform="translate(175.33 98.00) scale(0.9278 1)">16%</text>
<text class="b" transform="translate(26.11 120.00) scale(1.0332 1)">Change</text>
<text class="b" transform="translate(142.87 120.00) scale(0.9622 1)">+19 GW</text>
<text class="b" transform="translate(26.06 143.00) scale(0.9539 1)">Growth</text>
<text class="b" transform="translate(159.30 143.00) scale(0.9518 1)">+5.4%</text>
<text class="h" transform="translate(456.93 42.80) scale(1.0540 1)">Europe</text>
<text class="b" transform="translate(397.08 76.00) scale(1.0406 1)">Capacity</text>
<text class="b" transform="translate(514.39 76.00) scale(0.9626 1)">536 GW</text>
<text class="b" transform="translate(397.36 98.00) scale(0.9911 1)">Global share</text>
<text class="b" transform="translate(545.13 98.00) scale(0.9611 1)">23%</text>
<text class="b" transform="translate(397.11 120.00) scale(1.0332 1)">Change</text>
<text class="b" transform="translate(514.36 120.00) scale(0.9563 1)">+24 GW</text>
<text class="b" transform="translate(397.06 143.00) scale(0.9539 1)">Growth</text>
<text class="b" transform="translate(530.30 143.00) scale(0.9518 1)">+4.6%</text>
<text class="h" transform="translate(813.47 41.80) scale(1.0067 1)">Eurasia</text>
<text class="b" transform="translate(754.08 76.00) scale(1.0406 1)">Capacity</text>
<text class="b" transform="translate(872.12 76.00) scale(0.9527 1)">100 GW</text>
<text class="b" transform="translate(754.36 98.00) scale(0.9911 1)">Global share</text>
<text class="b" transform="translate(912.72 98.00) scale(0.9216 1)">4%</text>
<text class="b" transform="translate(754.11 120.00) scale(1.0332 1)">Change</text>
<text class="b" transform="translate(867.14 120.00) scale(0.9471 1)">+4.1 GW</text>
<text class="b" transform="translate(754.06 143.00) scale(0.9539 1)">Growth</text>
<text class="b" transform="translate(887.30 143.00) scale(0.9518 1)">+4.3%</text>
<text class="h" transform="translate(42.99 183.80) scale(1.1010 1)">Central America</text>
<text class="h" transform="translate(30.68 206.80) scale(1.1332 1)">and the Caribbean</text>
<text class="b" transform="translate(26.08 241.00) scale(1.0406 1)">Capacity</text>
<text class="b" transform="translate(154.83 241.00) scale(0.9362 1)">15 GW</text>
<text class="b" transform="translate(26.36 263.00) scale(0.9911 1)">Global share</text>
<text class="b" transform="translate(185.69 263.00) scale(0.8945 1)">1%</text>
<text class="b" transform="translate(26.11 285.00) scale(1.0332 1)">Change</text>
<text class="b" transform="translate(138.64 285.00) scale(0.9536 1)">+0.8 GW</text>
<text class="b" transform="translate(26.06 308.00) scale(0.9539 1)">Growth</text>
<text class="b" transform="translate(159.30 308.00) scale(0.9518 1)">+5.5%</text>
<text class="h" transform="translate(436.58 196.00) scale(1.0646 1)">Middle East</text>
<text class="b" transform="translate(397.08 241.00) scale(1.0406 1)">Capacity</text>
<text class="b" transform="translate(524.80 241.00) scale(0.9553 1)">20 GW</text>
<text class="b" transform="translate(397.36 263.00) scale(0.9911 1)">Global share</text>
<text class="b" transform="translate(557.60 263.00) scale(0.8605 1)">1%</text>
<text class="b" transform="translate(397.11 285.00) scale(1.0332 1)">Change</text>
<text class="b" transform="translate(510.14 285.00) scale(0.9471 1)">+1.3 GW</text>
<text class="b" transform="translate(397.06 308.00) scale(0.9539 1)">Growth</text>
<text class="b" transform="translate(530.88 308.00) scale(0.9378 1)">+7.1%</text>
<text class="h" transform="translate(826.88 196.00) scale(1.0208 1)">Asia</text>
<text class="b" transform="translate(754.08 241.00) scale(1.0406 1)">Capacity</text>
<text class="b" transform="translate(857.58 241.00) scale(0.9500 1)">1 024 GW</text>
<text class="b" transform="translate(754.36 263.00) scale(0.9911 1)">Global share</text>
<text class="b" transform="translate(902.25 263.00) scale(0.9556 1)">44%</text>
<text class="b" transform="translate(754.11 285.00) scale(1.0332 1)">Change</text>
<text class="b" transform="translate(861.33 285.00) scale(0.9569 1)">+105 GW</text>
<text class="b" transform="translate(754.06 308.00) scale(0.9539 1)">Growth</text>
<text class="b" transform="translate(878.04 308.00) scale(0.9558 1)">+11.4%</text>
<text class="h" transform="translate(51.23 347.80) scale(1.0810 1)">South America</text>
<text class="b" transform="translate(26.08 384.00) scale(1.0406 1)">Capacity</text>
<text class="b" transform="translate(143.61 384.00) scale(0.9729 1)">211 GW</text>
<text class="b" transform="translate(26.36 406.00) scale(0.9911 1)">Global share</text>
<text class="b" transform="translate(184.57 406.00) scale(0.9395 1)">9%</text>
<text class="b" transform="translate(26.11 428.00) scale(1.0332 1)">Change</text>
<text class="b" transform="translate(138.64 428.00) scale(0.9536 1)">+9.4 GW</text>
<text class="b" transform="translate(26.06 450.00) scale(0.9539 1)">Growth</text>
<text class="b" transform="translate(159.30 450.00) scale(0.9518 1)">+4.7%</text>
<text class="h" transform="translate(462.65 347.80) scale(1.0672 1)">Africa</text>
<text class="b" transform="translate(397.08 384.00) scale(1.0406 1)">Capacity</text>
<text class="b" transform="translate(525.12 384.00) scale(0.9483 1)">46 GW</text>
<text class="b" transform="translate(397.36 406.00) scale(0.9911 1)">Global share</text>
<text class="b" transform="translate(555.48 406.00) scale(0.9409 1)">2%</text>
<text class="b" transform="translate(397.11 428.00) scale(1.0332 1)">Change</text>
<text class="b" transform="translate(510.14 428.00) scale(0.9471 1)">+3.6 GW</text>
<text class="b" transform="translate(397.06 450.00) scale(0.9539 1)">Growth</text>
<text class="b" transform="translate(530.90 450.00) scale(0.9373 1)">+8.4%</text>
<text class="h" transform="translate(803.97 347.80) scale(1.1126 1)">Oceania</text>
<text class="b" transform="translate(751.08 384.00) scale(1.0406 1)">Capacity</text>
<text class="b" transform="translate(879.43 384.00) scale(0.9418 1)">32 GW</text>
<text class="b" transform="translate(751.36 406.00) scale(0.9911 1)">Global share</text>
<text class="b" transform="translate(911.60 406.00) scale(0.8605 1)">1%</text>
<text class="b" transform="translate(751.11 428.00) scale(1.0332 1)">Change</text>
<text class="b" transform="translate(864.14 428.00) scale(0.9471 1)">+4.8 GW</text>
<text class="b" transform="translate(751.06 450.00) scale(0.9539 1)">Growth</text>
<text class="b" transform="translate(875.06 450.00) scale(0.9414 1)">+17.7%</text>
</svg>
</body></html>
